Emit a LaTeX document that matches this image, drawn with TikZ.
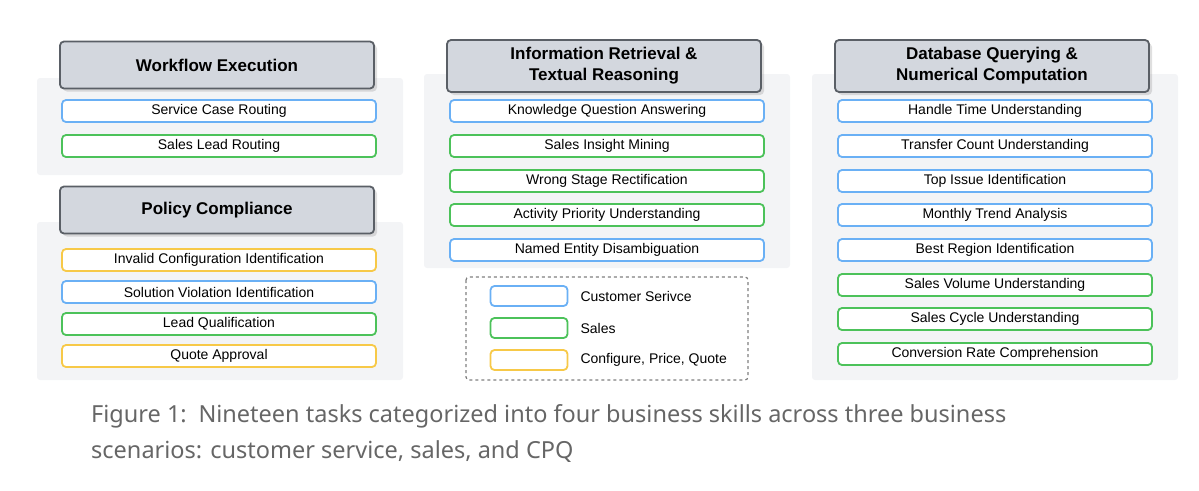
\documentclass[tikz,border=0pt]{standalone}
\usepackage{fontspec}
\setmainfont{Liberation Sans}
\newfontfamily\captionfont{Noto Sans}
\usetikzlibrary{positioning,shadows}
\definecolor{csblue}{HTML}{6AB0F5}
\definecolor{salesgreen}{HTML}{4CC25A}
\definecolor{cpqyellow}{HTML}{F7C948}
\definecolor{headfill}{HTML}{D3D7DE}
\definecolor{headdraw}{HTML}{5A5F66}
\definecolor{panelbg}{HTML}{F3F4F6}
\definecolor{captiongray}{HTML}{666666}
\begin{document}
\begin{tikzpicture}[x=1pt,y=-1pt,
    panel/.style={fill=panelbg,draw=none,rounded corners=3pt},
    head/.style={draw=headdraw,line width=1.8pt,fill=headfill,rounded corners=4pt,
        minimum width=314pt,align=center,font=\fontsize{17}{21}\selectfont\bfseries,
        drop shadow={shadow xshift=3pt,shadow yshift=-3pt,opacity=0.25}},
    task/.style={draw=#1,line width=1.8pt,fill=white,rounded corners=4pt,
        minimum width=314pt,minimum height=22pt,inner sep=0pt,font=\fontsize{14}{16}\selectfont},
    swatch/.style={draw=#1,line width=1.8pt,fill=white,rounded corners=4pt,
        minimum width=77pt,minimum height=20pt,inner sep=0pt},
    legtext/.style={anchor=west,font=\fontsize{14}{16}\selectfont}]

    \useasboundingbox (0,0) rectangle (1199,490);

    % panels
    \draw[panel] (37,78) rectangle (403,175);
    \draw[panel] (37,222) rectangle (403,380);
    \draw[panel] (424,74) rectangle (790,268);
    \draw[panel] (812,74) rectangle (1178,380);

    % headers
    \node[head,minimum height=47pt] (workflow) at (217,65) {Workflow Execution};
    \node[head,minimum height=47pt] (policy) at (217,210) {Policy Compliance};
    \node[head,minimum height=52pt] (retrieval) at (604,66) {Information Retrieval \&\\Textual Reasoning};
    \node[head,minimum height=52pt] (database) at (992,66) {Database Querying \&\\Numerical Computation};

    % workflow tasks
    \node[task=csblue] (scr) at (219,111) {Service Case Routing};
    \node[task=salesgreen] (slr) at (219,146) {Sales Lead Routing};

    % policy tasks
    \node[task=cpqyellow] (invalid) at (219,260) {Invalid Configuration Identification};
    \node[task=csblue] (violation) at (219,292) {Solution Violation Identification};
    \node[task=salesgreen] (lead) at (219,324) {Lead Qualification};
    \node[task=cpqyellow] (quote) at (219,356) {Quote Approval};

    % retrieval tasks
    \node[task=csblue] (knowledge) at (607,111) {Knowledge Question Answering};
    \node[task=salesgreen] (insight) at (607,146) {Sales Insight Mining};
    \node[task=salesgreen] (stage) at (607,181) {Wrong Stage Rectification};
    \node[task=salesgreen] (priority) at (607,215) {Activity Priority Understanding};
    \node[task=csblue] (entity) at (607,250) {Named Entity Disambiguation};

    % database tasks
    \node[task=csblue] (handle) at (995,111) {Handle Time Understanding};
    \node[task=csblue] (transfer) at (995,146) {Transfer Count Understanding};
    \node[task=csblue] (issue) at (995,181) {Top Issue Identification};
    \node[task=csblue] (trend) at (995,215) {Monthly Trend Analysis};
    \node[task=csblue] (region) at (995,250) {Best Region Identification};
    \node[task=salesgreen] (volume) at (995,285) {Sales Volume Understanding};
    \node[task=salesgreen] (cycle) at (995,319) {Sales Cycle Understanding};
    \node[task=salesgreen] (conversion) at (995,354) {Conversion Rate Comprehension};

    % legend
    \draw[dashed,draw=gray,line width=1.2pt,rounded corners=3pt] (466,277) rectangle (748,380);
    \node[swatch=csblue] (legcs) at (529,296) {};
    \node[swatch=salesgreen] (legsales) at (529,328) {};
    \node[swatch=cpqyellow] (legcpq) at (529,360) {};
    \node[legtext] at (577,296) {Customer Serivce};
    \node[legtext] at (577,328) {Sales};
    \node[legtext] at (577,360) {Configure, Price, Quote};

    % caption
    \node[anchor=north west,align=left,text=captiongray,inner sep=0pt,
        font=\captionfont\fontsize{23.5}{36}\selectfont] (caption) at (91,404)
        {Figure 1:\enspace Nineteen tasks categorized into four business skills across three business\\scenarios: customer service, sales, and CPQ};
\end{tikzpicture}
\end{document}
